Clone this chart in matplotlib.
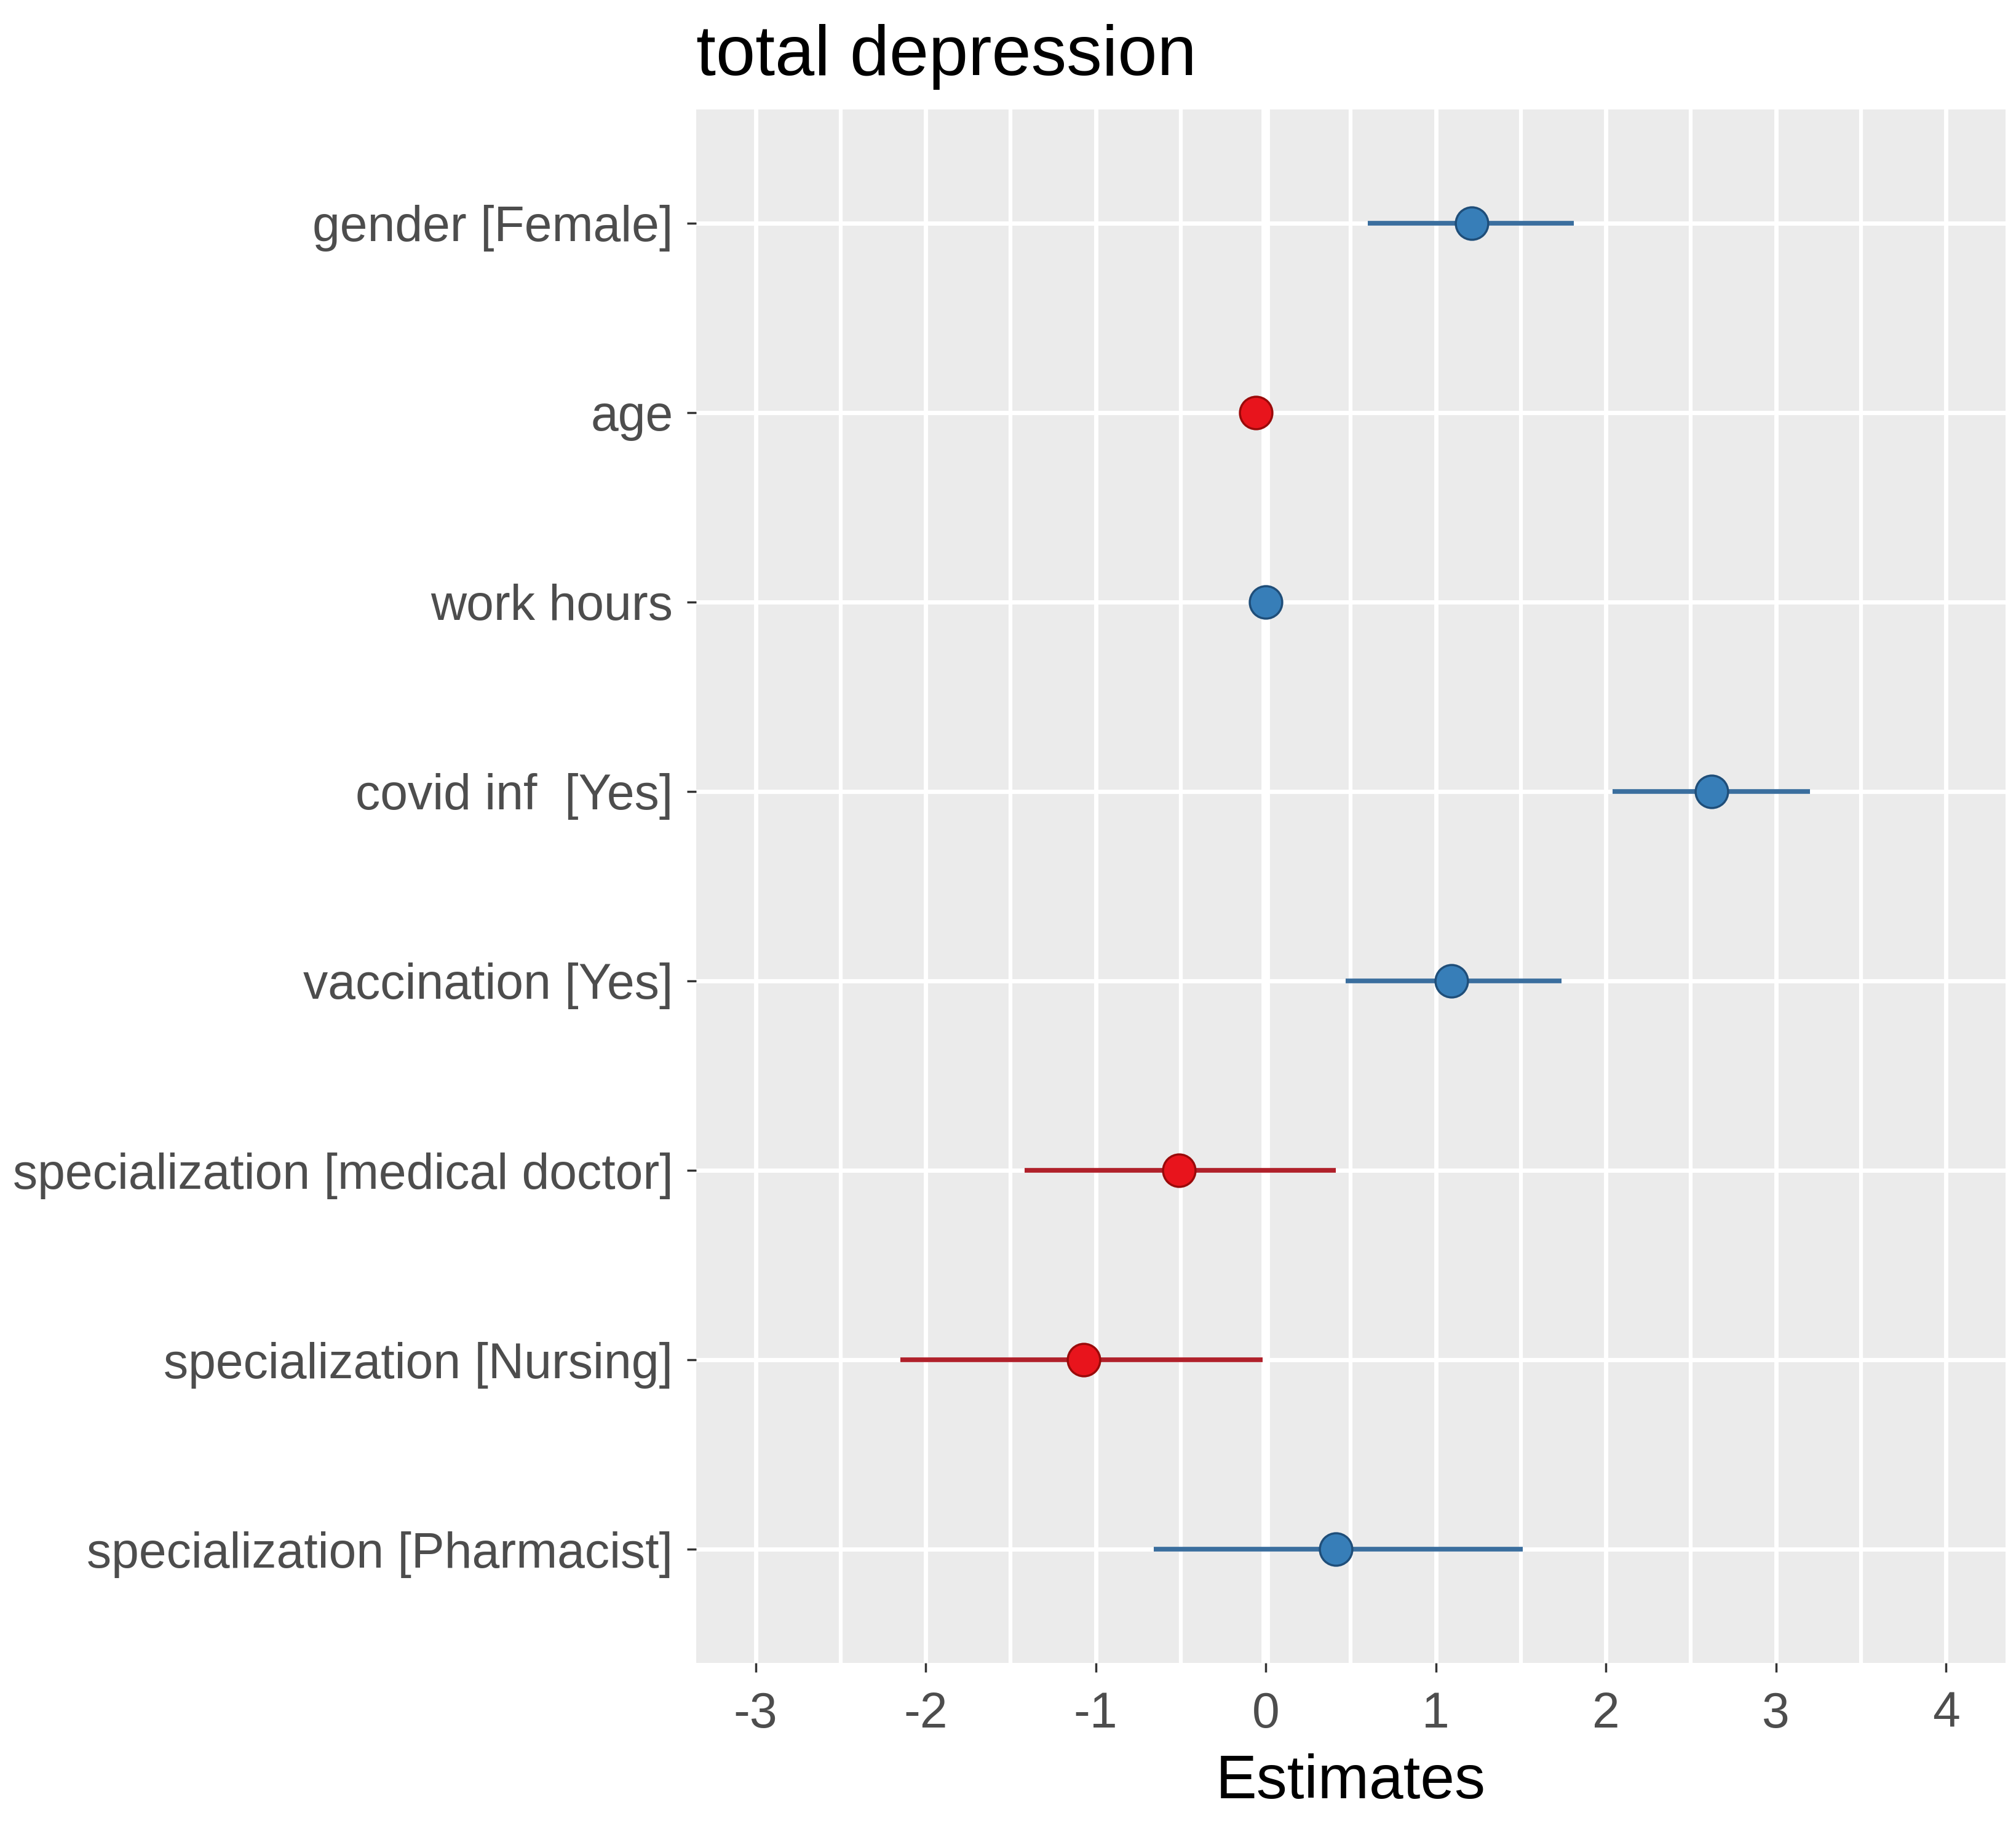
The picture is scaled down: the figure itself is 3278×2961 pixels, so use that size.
import matplotlib
matplotlib.use("Agg")
import matplotlib.pyplot as plt
import numpy as np
from matplotlib.ticker import MultipleLocator

plt.rcParams['font.family'] = ['Liberation Sans', 'DejaVu Sans']

# model terms, top to bottom
terms = ["gender [Female]", "age", "work hours", "covid inf  [Yes]",
         "vaccination [Yes]", "specialization [medical doctor]",
         "specialization [Nursing]", "specialization [Pharmacist]"]
estimates = [1.21, -0.06, 0.00, 2.62, 1.09, -0.51, -1.07, 0.41]
ciLow = [0.60, -0.08, -0.02, 2.04, 0.47, -1.42, -2.15, -0.66]
ciHigh = [1.81, -0.04, 0.02, 3.20, 1.74, 0.41, -0.02, 1.51]
xTicks = [-3, -2, -1, 0, 1, 2, 3, 4]

bluePoint, blueLine, blueEdge = "#377EB8", "#3A6E9E", "#1F4E79"
redPoint, redLine, redEdge = "#E8141C", "#B0202A", "#9A0A0A"

fig = plt.figure(figsize=(32.78, 29.61), dpi=100)
ax = fig.add_axes([0.3453, 0.0868, 0.6495, 0.8531])
ax.set_facecolor("#EBEBEB")
for s in ax.spines.values():
    s.set_visible(False)

ypos = np.arange(1, len(terms) + 1)

# grid
ax.xaxis.set_minor_locator(MultipleLocator(0.5))
ax.grid(True, which="major", axis="both", color="white", linewidth=5, zorder=0)
ax.grid(True, which="minor", axis="x", color="white", linewidth=4.5, zorder=0)
ax.set_axisbelow(True)
ax.axvline(0, color="white", linewidth=10, zorder=1)

for y, est, lo, hi in zip(ypos, estimates, ciLow, ciHigh):
    if est >= 0:
        pc, lc, ec = bluePoint, blueLine, blueEdge
    else:
        pc, lc, ec = redPoint, redLine, redEdge
    ax.plot([lo, hi], [y, y], color=lc, linewidth=5.5, solid_capstyle="butt", zorder=2)
    ax.plot(est, y, "o", markersize=38, markerfacecolor=pc, markeredgecolor=ec,
            markeredgewidth=2.5, zorder=3)

ax.set_xlim(-3.35, 4.35)
ax.set_ylim(len(terms) + 0.6, 0.4)
ax.set_xticks(xTicks)
ax.set_xticklabels([str(t) for t in xTicks])
ax.set_yticks(ypos)
ax.set_yticklabels(terms)

ax.tick_params(axis="both", which="major", labelsize=58, labelcolor="#4D4D4D",
               color="#333333", length=11, width=2.5)
ax.tick_params(axis="x", which="major", pad=22)
ax.tick_params(axis="y", which="major", pad=16)
ax.tick_params(axis="x", which="minor", length=0)

ax.set_xlabel("Estimates", fontsize=72, color="black", labelpad=18)
ax.set_title("total depression", loc="left", fontsize=83, color="black", pad=40)

fig.savefig("out.png", dpi=100)
